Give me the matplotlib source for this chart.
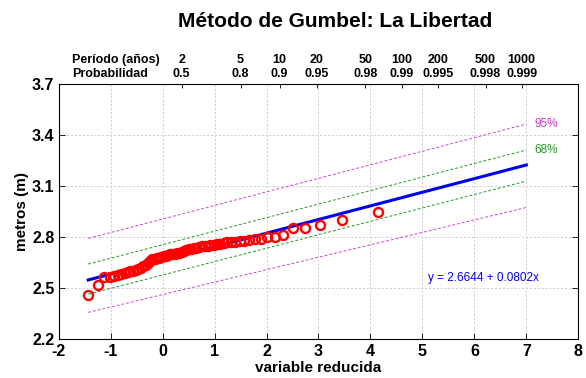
import numpy as np
import matplotlib
matplotlib.use('Agg')
import matplotlib.pyplot as plt

plt.rcParams['font.family'] = ['Liberation Sans', 'DejaVu Sans']
plt.rcParams['axes.unicode_minus'] = False

##reduced variate of each observation and the measured level (m)
x_obs = [-1.425, -1.243, -1.119, -1.020, -0.936, -0.862, -0.794, -0.732, -0.674, -0.619,
         -0.566, -0.515, -0.466, -0.419, -0.372, -0.327, -0.282, -0.238, -0.194, -0.151,
         -0.108, -0.066, -0.023, 0.019, 0.062, 0.105, 0.147, 0.190, 0.234, 0.277,
         0.322, 0.367, 0.412, 0.458, 0.505, 0.553, 0.601, 0.651, 0.703, 0.755,
         0.809, 0.865, 0.922, 0.982, 1.044, 1.108, 1.176, 1.246, 1.320, 1.399,
         1.482, 1.572, 1.668, 1.773, 1.887, 2.013, 2.155, 2.318, 2.509, 2.740,
         3.036, 3.450, 4.151]
y_obs = [2.46, 2.52, 2.565, 2.57, 2.575, 2.58, 2.585, 2.59, 2.595, 2.60,
         2.605, 2.61, 2.615, 2.62, 2.63, 2.64, 2.65, 2.66, 2.67, 2.675,
         2.68, 2.68, 2.685, 2.69, 2.69, 2.695, 2.70, 2.70, 2.705, 2.71,
         2.71, 2.715, 2.72, 2.725, 2.73, 2.73, 2.735, 2.74, 2.745, 2.75,
         2.75, 2.75, 2.755, 2.755, 2.76, 2.76, 2.765, 2.77, 2.77, 2.775,
         2.78, 2.78, 2.785, 2.79, 2.79, 2.80, 2.80, 2.815, 2.855, 2.855,
         2.875, 2.905, 2.95]

##fitted line and confidence bands (end points)
a_fit = 2.6644
b_fit = 0.0802
x_band = [-1.43, 7.0]
up95 = [2.794, 3.466]
up68 = [2.643, 3.314]
lo68 = [2.466, 3.131]
lo95 = [2.359, 2.976]

##return period axis
periodo = ['2', '5', '10', '20', '50', '100', '200', '500', '1000']
prob = ['0.5', '0.8', '0.9', '0.95', '0.98', '0.99', '0.995', '0.998', '0.999']
x_periodo = [0.367, 1.500, 2.250, 2.970, 3.902, 4.600, 5.296, 6.214, 6.907]

fig = plt.figure(figsize=(5.86, 3.78), dpi=100)
ax = fig.add_axes([0.100, 0.102, 0.887, 0.675])

ax.grid(True, color='#cccccc', linestyle=(0, (2, 2)), linewidth=0.7)
ax.set_axisbelow(True)

ax.plot(x_band, up95, color='#cc44cc', linestyle='--', linewidth=0.7, dashes=(3, 2))
ax.plot(x_band, lo95, color='#cc44cc', linestyle='--', linewidth=0.7, dashes=(3, 2))
ax.plot(x_band, up68, color='#229922', linestyle='--', linewidth=0.7, dashes=(3, 2))
ax.plot(x_band, lo68, color='#229922', linestyle='--', linewidth=0.7, dashes=(3, 2))

xf = np.array(x_band)
ax.plot(xf, a_fit + b_fit*xf, color='#0000ee', linewidth=2.2)

ax.plot(x_obs, y_obs, 'o', markerfacecolor='none', markeredgecolor='red',
        markersize=6.5, markeredgewidth=1.7)

ax.text(7.15, up95[1], '95%', color='#cc33cc', fontsize=8.5, va='center')
ax.text(7.15, up68[1], '68%', color='#229922', fontsize=8.5, va='center')
ax.text(6.17, 2.562, 'y = %.4f + %.4fx' % (a_fit, b_fit), color='#0000ee',
        fontsize=8.5, ha='center', va='center')

ax.set_xlim(-2, 8)
ax.set_ylim(2.2, 3.7)
ax.set_xticks(range(-2, 9))
ax.set_yticks([2.2, 2.5, 2.8, 3.1, 3.4, 3.7])
ax.set_yticklabels(['2.2', '2.5', '2.8', '3.1', '3.4', '3.7'])
ax.tick_params(direction='in', top=True, right=True, length=4, width=0.6,
               labelsize=11.5, pad=3)
for lab in ax.get_xticklabels() + ax.get_yticklabels():
    lab.set_fontweight('bold')
ax.set_xlabel('variable reducida', fontsize=11, fontweight='bold', labelpad=2)
ax.set_ylabel('metros (m)', fontsize=11, fontweight='bold', labelpad=2)
for s in ax.spines.values():
    s.set_linewidth(0.6)

##top axis with return period / probability
ax2 = ax.twiny()
ax2.set_xlim(ax.get_xlim())
ax2.set_xticks(x_periodo)
ax2.set_xticklabels([p + '\n' + q for p, q in zip(periodo, prob)],
                    fontsize=9, fontweight='bold', linespacing=1.25)
ax2.tick_params(direction='in', length=3, width=0.6, pad=3)
ax.annotate('Período (años)\nProbabilidad', xy=(0.026, 1.0), xycoords='axes fraction',
            xytext=(0, 3), textcoords='offset points', ha='left', va='bottom',
            fontsize=9, fontweight='bold', linespacing=1.25)

fig.text(0.572, 0.942, 'Método de Gumbel: La Libertad', fontsize=15,
         fontweight='bold', ha='center', va='center')

fig.savefig('out.png', dpi=100)
